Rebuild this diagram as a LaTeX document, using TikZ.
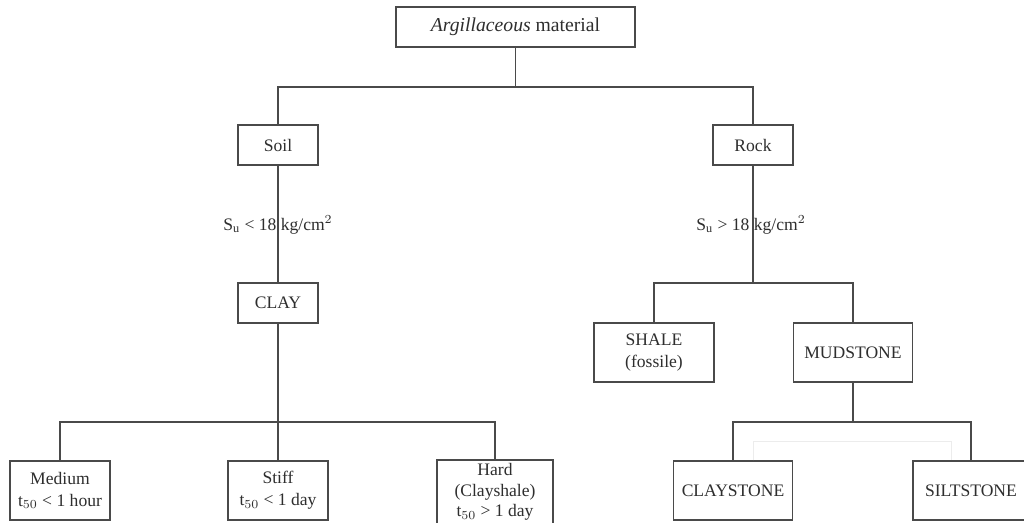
\documentclass[tikz,border=0pt]{standalone}
\usepackage{fontspec}
\setmainfont{Liberation Serif}
\usetikzlibrary{calc}
\definecolor{ln}{HTML}{4A4A4A}
\definecolor{tx}{HTML}{2E2E2E}
\begin{document}
\begin{tikzpicture}[x=0.02cm,y=-0.02cm,
  box/.style={draw=ln,line width=0.8pt,fill=white,inner sep=0pt,align=center,text=tx,
    font=\fontsize{10}{12.5}\selectfont},
  conn/.style={draw=ln,line width=0.8pt},
  lbl/.style={text=tx,inner sep=0pt,font=\fontsize{10}{12}\selectfont}]
\useasboundingbox (0,0) rectangle (1024,523);
\fill[white] (0,0) rectangle (1024,523);

\node[box,minimum width=4.78cm,minimum height=0.8cm,font=\fontsize{11.2}{13}\selectfont] (top) at (515.5,27) {\textit{Argillaceous} material};
\node[box,minimum width=1.6cm,minimum height=0.8cm] (soil) at (278,145) {Soil};
\node[box,minimum width=1.6cm,minimum height=0.8cm] (rock) at (753,145) {Rock};
\node[box,minimum width=1.6cm,minimum height=0.8cm] (clay) at (278,303) {CLAY};
\node[box,minimum width=2.0cm,minimum height=1.18cm] (med) at (60,490.5) {Medium\\t$_{50}$ {\textless} 1 hour};
\node[box,minimum width=2.0cm,minimum height=1.18cm] (stiff) at (278,490.5) {Stiff\\t$_{50}$ {\textless} 1 day};
\node[box,minimum width=2.32cm,minimum height=1.28cm,font=\fontsize{10}{11.5}\selectfont] (hard) at (495,492) {Hard\\(Clayshale)\\t$_{50}$ {\textgreater} 1 day};
\node[box,minimum width=2.4cm,minimum height=1.18cm] (shale) at (654,352.5) {SHALE\\(fossile)};
\node[box,minimum width=2.38cm,minimum height=1.18cm] (mud) at (853,352.5) {MUDSTONE};
\node[box,minimum width=2.38cm,minimum height=1.18cm] (clst) at (733,490.5) {CLAYSTONE};
\node[box,minimum width=2.32cm,minimum height=1.18cm] (silt) at (971,490.5) {SILTSTONE};

\node[lbl] (l1) at (278,225) {S$_{\mathrm{u}}$ {\textless} 18 kg/cm$^{2}$};
\node[lbl] (l2) at (751,225) {S$_{\mathrm{u}}$ {\textgreater} 18 kg/cm$^{2}$};

\coordinate (y1) at (0,87);
\coordinate (y2) at (0,422);
\coordinate (y3) at (0,283);
\coordinate (y4) at (0,422);

\draw[conn] (top.south) -- (top.south |- y1);
\draw[conn] (soil.north) |- (top.south |- y1) -| (rock.north);
\draw[conn] (soil.south) -- (clay.north);
\draw[conn] (clay.south) -- (stiff.north);
\draw[conn] (med.north) |- (clay.south |- y2) -| (hard.north);
\draw[conn] (rock.south) -- (rock.south |- y3);
\draw[conn] (shale.north) |- (rock.south |- y3) -| (mud.north);
\draw[conn] (mud.south) -- (mud.south |- y4);
\draw[conn] (clst.north) |- (mud.south |- y4) -| (silt.north);
\draw[gray!15,line width=0.5pt] ($(clst.north)+(20,0)$) -- ++(0,-19) -| ($(silt.north)+(-20,0)$);
\end{tikzpicture}
\end{document}
